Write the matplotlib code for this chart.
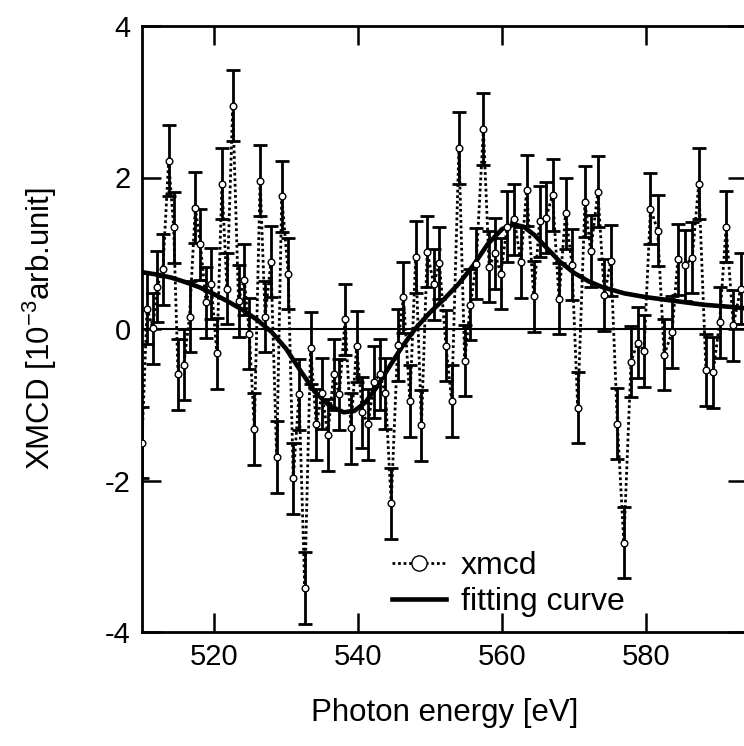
import matplotlib
matplotlib.use("Agg")
import matplotlib.pyplot as plt
from matplotlib.lines import Line2D

plt.rcParams['font.family'] = ['Liberation Sans', 'DejaVu Sans']
plt.rcParams['mathtext.default'] = 'regular'
plt.rcParams['axes.unicode_minus'] = False

# measured XMCD points (photon energy in eV, XMCD in 1e-3 arb. unit)
energy = [510.0, 510.7, 511.5, 512.1, 512.9, 513.7, 514.4, 515.0, 515.8, 516.6,
          517.4, 518.1, 518.9, 519.6, 520.4, 521.1, 521.8, 522.6, 523.4, 524.2,
          524.9, 525.6, 526.4, 527.1, 527.9, 528.7, 529.4, 530.3, 531.0, 531.8,
          532.6, 533.4, 534.2, 535.0, 535.8, 536.6, 537.4, 538.2, 539.0, 539.8,
          540.6, 541.4, 542.2, 543.0, 543.8, 544.6, 545.5, 546.3, 547.2, 548.0,
          548.8, 549.6, 550.5, 551.3, 552.2, 553.0, 554.0, 554.8, 555.6, 556.4,
          557.4, 558.2, 559.0, 559.8, 560.7, 561.7, 562.6, 563.4, 564.4, 565.2,
          566.1, 567.0, 567.9, 568.8, 569.7, 570.5, 571.5, 572.3, 573.3, 574.2,
          575.1, 576.0, 576.9, 577.9, 578.8, 579.7, 580.6, 581.6, 582.5, 583.6,
          584.4, 585.4, 586.4, 587.3, 588.3, 589.3, 590.2, 591.1, 592.1, 593.1]
xmcd = [-1.50, 0.27, 0.01, 0.56, 0.79, 2.22, 1.34, -0.60, -0.47, 0.16,
        1.60, 1.12, 0.35, 0.60, -0.32, 1.92, 0.53, 2.95, 0.37, 0.65,
        -0.06, -1.32, 1.96, 0.16, 0.89, -1.69, 1.75, 0.73, -1.97, -0.86,
        -3.42, -0.25, -1.26, -0.85, -1.40, -0.60, -0.86, 0.13, -1.31, -0.23,
        -1.10, -1.26, -0.70, -0.60, -0.85, -2.30, -0.21, 0.42, -0.95, 0.95,
        -1.27, 1.02, 0.59, 0.87, -0.22, -0.95, 2.39, -0.42, 0.32, 0.86,
        2.64, 0.82, 1.00, 0.73, 1.35, 1.45, 0.88, 1.83, 0.43, 1.42,
        1.47, 1.77, 0.40, 1.53, 0.85, -1.04, 1.68, 1.03, 1.81, 0.45,
        0.90, -1.25, -2.82, -0.43, -0.18, -0.29, 1.59, 1.30, -0.34, -0.04,
        0.92, 0.84, 0.94, 1.92, -0.54, -0.57, 0.09, 1.35, 0.05, 0.53]
xmcd_err = 0.47

# fitting curve
fit_energy = [510, 512, 514, 516, 518, 520, 522, 524, 526, 528,
              530, 532, 534, 536, 538, 539.5, 541, 542.5, 544, 546,
              548, 550, 552, 554, 556, 558, 560, 561.6, 563, 564.5,
              566, 568, 570, 572, 574, 577, 580, 584, 588, 592, 594]
fit_xmcd = [0.75, 0.72, 0.68, 0.62, 0.55, 0.46, 0.36, 0.25, 0.12, -0.04,
            -0.26, -0.55, -0.83, -1.01, -1.10, -1.08, -0.97, -0.78, -0.55, -0.25,
            0.01, 0.22, 0.40, 0.60, 0.84, 1.12, 1.32, 1.38, 1.35, 1.24,
            1.09, 0.89, 0.74, 0.63, 0.55, 0.47, 0.42, 0.37, 0.32, 0.29, 0.27]

W, H = 744, 746
fig = plt.figure(figsize=(W / 100, H / 100), dpi=100)
ax = fig.add_axes([142 / W, 1 - 632 / H, (747 - 142) / W, (632 - 26) / H])

dots = (0, (1, 1))
ax.axhline(0, color='k', lw=1.5, zorder=1)
ax.errorbar(energy, xmcd, yerr=xmcd_err, fmt='none', ecolor='k',
            elinewidth=2, capsize=4.7, capthick=2, zorder=2)
ax.plot(energy, xmcd, color='k', ls=dots, lw=2, zorder=3)
ax.plot(fit_energy, fit_xmcd, color='k', lw=3.3, zorder=4)
ax.plot(energy, xmcd, ls='none', marker='o', ms=4.8, mfc='white',
        mec='k', mew=1, zorder=5)

ax.set_xlim(510, 594)
ax.set_ylim(-4, 4)
ax.set_xticks([520, 540, 560, 580])
ax.set_yticks([-4, -2, 0, 2, 4])
ax.tick_params(direction='in', length=14, width=1.8, top=True, right=True,
               labelsize=21, pad=8)
for s in ax.spines.values():
    s.set_linewidth(2)

h1 = Line2D([], [], color='k', ls=dots, lw=2, marker='o', ms=11,
            mfc='white', mec='k', mew=1)
h2 = Line2D([], [], color='k', lw=3.3)
ax.legend([h1, h2], ['xmcd', 'fitting curve'], frameon=False, fontsize=23,
          handlelength=1.69, handletextpad=0.47, labelspacing=0.2,
          borderpad=0, borderaxespad=0,
          loc='upper left', bbox_to_anchor=(392 / W, 1 - 551 / H),
          bbox_transform=fig.transFigure)

fig.text(445 / W, 1 - 713 / H, 'Photon energy [eV]', ha='center', va='center',
         fontsize=22.5)
fig.text(40 / W, 1 - 329 / H, r'XMCD [10$^{-3}$arb.unit]', ha='center',
         va='center', rotation=90, fontsize=22.5)

fig.savefig('out.png', dpi=100)
